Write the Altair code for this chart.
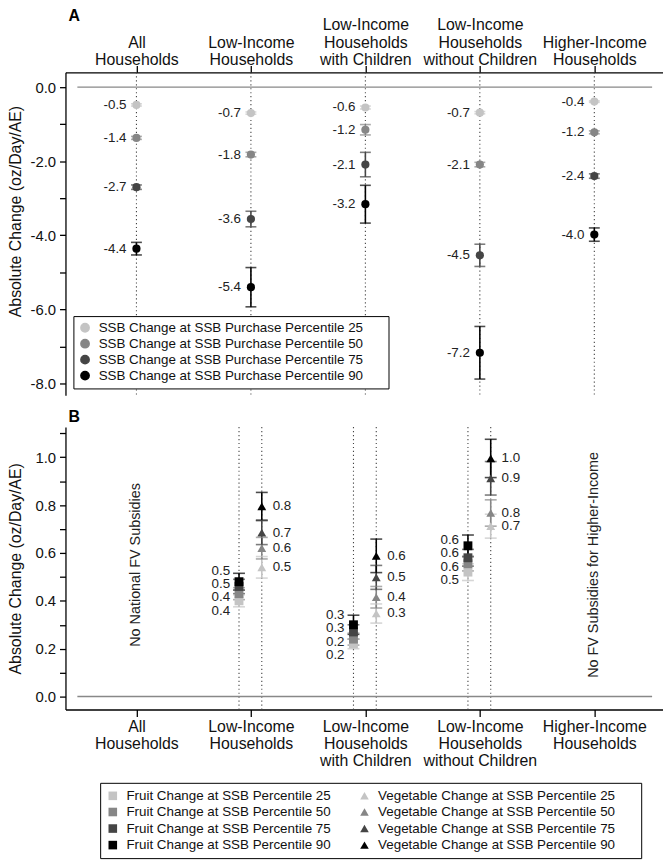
import json
import altair as alt
import pandas as pd

FONT = "Liberation Sans"

# ---------------- data ----------------
group_lines = [
    ["All", "Households"],
    ["Low-Income", "Households"],
    ["Low-Income", "Households", "with Children"],
    ["Low-Income", "Households", "without Children"],
    ["Higher-Income", "Households"],
]
percentiles = [25, 50, 75, 90]
gray_levels = ["#c4c4c4", "#868686", "#454545", "#000000"]
panel_letters = ["A", "B"]

# Panel A: SSB change (rows = groups, cols = percentile 25/50/75/90)
ssb_mean = [
    [-0.48, -1.37, -2.70, -4.36],
    [-0.70, -1.82, -3.56, -5.40],
    [-0.55, -1.15, -2.09, -3.16],
    [-0.69, -2.09, -4.54, -7.17],
    [-0.39, -1.22, -2.40, -3.98],
]
ssb_err = [
    [0.03, 0.04, 0.06, 0.17],
    [0.03, 0.06, 0.21, 0.53],
    [0.04, 0.14, 0.33, 0.51],
    [0.03, 0.06, 0.30, 0.71],
    [0.02, 0.04, 0.06, 0.18],
]
ssb_text = [
    ["-0.5", "-1.4", "-2.7", "-4.4"],
    ["-0.7", "-1.8", "-3.6", "-5.4"],
    ["-0.6", "-1.2", "-2.1", "-3.2"],
    ["-0.7", "-2.1", "-4.5", "-7.2"],
    ["-0.4", "-1.2", "-2.4", "-4.0"],
]

# Panel B: fruit / vegetable change for the low-income groups (index 1..3)
fv_groups = [1, 2, 3]
fruit_mean = [
    [0.40, 0.43, 0.46, 0.48],
    [0.22, 0.24, 0.27, 0.30],
    [0.52, 0.555, 0.58, 0.63],
]
fruit_err = [
    [0.025, 0.025, 0.03, 0.035],
    [0.02, 0.025, 0.03, 0.04],
    [0.035, 0.03, 0.035, 0.045],
]
fruit_text = [
    ["0.4", "0.4", "0.5", "0.5"],
    ["0.2", "0.2", "0.3", "0.3"],
    ["0.5", "0.6", "0.6", "0.6"],
]
veg_mean = [
    [0.54, 0.62, 0.685, 0.795],
    [0.347, 0.415, 0.498, 0.588],
    [0.712, 0.767, 0.912, 0.995],
]
veg_err = [
    [0.045, 0.045, 0.05, 0.058],
    [0.04, 0.045, 0.05, 0.07],
    [0.05, 0.055, 0.07, 0.08],
]
veg_text = [
    ["0.5", "0.6", "0.7", "0.8"],
    ["0.3", "0.4", "0.5", "0.6"],
    ["0.7", "0.8", "0.9", "1.0"],
]
notes = ["No National FV Subsidies", "No FV Subsidies for Higher-Income"]
note_groups = [0, 4]

# ---------------- layout / style constants ----------------
WA, HA = 603, 326
WB, HB = 603, 285
FRUIT_OFF, VEG_OFF = -0.104, 0.095
NOTE_Y = 0.55
BLANK_TAIL = "\u2800\u2800"


def dodge(vals, gap):
    order = sorted(range(len(vals)), key=lambda i: vals[i])
    clusters = [[i] for i in order]

    def pos(cl):
        c = sum(vals[i] for i in cl) / len(cl)
        n = len(cl)
        return [c + (k - (n - 1) / 2) * gap for k in range(n)]

    merged = True
    while merged:
        merged = False
        for j in range(len(clusters) - 1):
            a, b = pos(clusters[j]), pos(clusters[j + 1])
            if b[0] - a[-1] < gap - 1e-9:
                clusters[j] = clusters[j] + clusters[j + 1]
                del clusters[j + 1]
                merged = True
                break
    out = [0.0] * len(vals)
    for cl in clusters:
        for i, p in zip(cl, pos(cl)):
            out[i] = p
    return out


ssb_names = [f"SSB Change at SSB Purchase Percentile {p}" for p in percentiles]
fruit_names = [f"Fruit Change at SSB Percentile {p}" for p in percentiles]
veg_names = [f"Vegetable Change at SSB Percentile {p}" for p in percentiles]

rowsA = []
for g in range(5):
    ly = dodge(ssb_mean[g], 0.35)
    for k in range(4):
        m, e = ssb_mean[g][k], ssb_err[g][k]
        rowsA.append(dict(x=g, m=m, lo=m - e, hi=m + e, txt=ssb_text[g][k], ly=ly[k], series=ssb_names[k]))
dfA = pd.DataFrame(rowsA)

rowsF, rowsV = [], []
for j, g in enumerate(fv_groups):
    lyf = dodge(fruit_mean[j], 0.056)
    lyv = dodge(veg_mean[j], 0.054)
    for k in range(4):
        m, e = fruit_mean[j][k], fruit_err[j][k]
        rowsF.append(dict(x=g + FRUIT_OFF, m=m, lo=m - e, hi=m + e, txt=fruit_text[j][k], ly=lyf[k], series=fruit_names[k], k=k))
        m, e = veg_mean[j][k], veg_err[j][k]
        rowsV.append(dict(x=g + VEG_OFF, m=m, lo=m - e, hi=m + e, txt=veg_text[j][k], ly=lyv[k], series=veg_names[k], k=k))
dfF = pd.DataFrame(rowsF)
dfV = pd.DataFrame(rowsV)
dfB = pd.concat([dfF, dfV]).sort_values(["k", "x"]).reset_index(drop=True)

# ---------------- scales / axes ----------------
# top axis: pad every label to three lines so that the last lines line up
top_lines = [[""] * (3 - len(g)) + g for g in group_lines]
label_expr_top = f"{json.dumps(top_lines)}[round(datum.value)]"
label_expr_bot = f"{json.dumps(group_lines)}[round(datum.value)]"
xscale = alt.Scale(domain=[-0.62, 4.6], nice=False, zero=False)
common_x_axis = dict(values=[0, 1, 2, 3, 4], title=None, grid=False,
                     labelFontSize=16, labelLineHeight=17.5, labelFlush=False, labelOverlap=False,
                     labelAlign="center", tickSize=7, domainWidth=1.3, tickWidth=1.3,
                     labelColor="#111", domainColor="black", tickColor="black")
xaxisA = alt.Axis(orient="top", labelExpr=label_expr_top, labelBaseline="top", labelPadding=49, **common_x_axis)
xaxisB = alt.Axis(orient="bottom", labelExpr=label_expr_bot, labelPadding=2, **common_x_axis)

ytitle = "Absolute Change (oz/Day/AE)"
yscaleA = alt.Scale(domain=[-8.32, 0.40], nice=False, zero=False)
yaxisA = alt.Axis(values=list(range(-8, 1)),
                  labelExpr="datum.value % 2 == 0 ? (datum.value < 0 ? '-' : '') + format(abs(datum.value), '.1f') : ''",
                  title=ytitle, titleFontSize=16, titleFontWeight="normal", titleX=-50, titleY=140,
                  titleAngle=-90, titleAlign="center", titleBaseline="middle",
                  labelFontSize=15, tickSize=6, labelPadding=4, grid=False, domainWidth=1.3, tickWidth=1.3,
                  domainColor="black", tickColor="black", labelColor="#111", titleColor="#111")
yscaleB = alt.Scale(domain=[-0.054, 1.126], nice=False, zero=False)
yaxisB = alt.Axis(values=[round(0.1 * i, 1) for i in range(12)],
                  labelExpr="round(datum.value * 10) % 2 == 0 ? format(datum.value, '.1f') : ''",
                  title=ytitle, titleFontSize=16, titleFontWeight="normal", titleX=-50, titleY=HB / 2,
                  titleAngle=-90, titleAlign="center", titleBaseline="middle",
                  labelFontSize=15, tickSize=6, labelPadding=4, grid=False, domainWidth=1.3, tickWidth=1.3,
                  domainColor="black", tickColor="black", labelColor="#111", titleColor="#111")


def XA(f="x:Q"):
    return alt.X(f, scale=xscale, axis=xaxisA)


def XB(f="x:Q"):
    return alt.X(f, scale=xscale, axis=xaxisB)


def YA(f):
    return alt.Y(f, scale=yscaleA, axis=yaxisA)


def YB(f):
    return alt.Y(f, scale=yscaleB, axis=yaxisB)


legend_label_expr = f"datum.label + '{BLANK_TAIL}'"

colorA = alt.Scale(domain=ssb_names, range=gray_levels)
legendA = alt.Legend(title=None, orient="none", legendX=8, legendY=246, symbolType="circle",
                     symbolSize=70, symbolOpacity=1, labelFontSize=13.5, labelFont=FONT, labelColor="#111",
                     strokeColor="black", fillColor="white", padding=5, rowPadding=1.1,
                     labelOffset=7, labelLimit=0, labelExpr=legend_label_expr)

# column-major order: fruit column first, vegetable column second
namesB = fruit_names + veg_names
colorsB = gray_levels + gray_levels
shapesB = ["square"] * 4 + ["triangle-up"] * 4
colorB = alt.Scale(domain=namesB, range=colorsB)
shapeB = alt.Scale(domain=namesB, range=shapesB)
legendB = alt.Legend(title=None, orient="none", legendX=35, legendY=359, columns=2,
                     symbolSize=75, symbolOpacity=1, labelFontSize=13.5, labelFont=FONT, labelColor="#111",
                     strokeColor="black", fillColor="white", padding=6, rowPadding=1.7,
                     columnPadding=7, labelOffset=7, labelLimit=0, symbolStrokeWidth=0,
                     labelExpr=legend_label_expr)


def CA():
    return alt.Color("series:N", scale=colorA, legend=legendA)


def CB():
    return alt.Color("series:N", scale=colorB, legend=legendB)


# ---------------- panel A ----------------
dfGroups = pd.DataFrame({"x": list(range(5))})
dfZero = pd.DataFrame({"z": [0.0]})

dotsA = alt.Chart(dfGroups).mark_rule(strokeDash=[1.2, 2.8], color="#444", strokeWidth=1.1).encode(
    x=XA(), y=alt.value(0), y2=alt.value(HA))
zeroA = alt.Chart(dfZero).mark_rule(color="#888", strokeWidth=1.4).encode(
    y=YA("z:Q"), x=alt.value(12), x2=alt.value(592))
baseA = alt.Chart(dfA).encode(x=XA())
errA = baseA.mark_rule(strokeWidth=1.6).encode(y=YA("lo:Q"), y2="hi:Q", color=CA())
capLoA = baseA.mark_tick(orient="horizontal", size=11, thickness=1.6).encode(y=YA("lo:Q"), color=CA())
capHiA = baseA.mark_tick(orient="horizontal", size=11, thickness=1.6).encode(y=YA("hi:Q"), color=CA())
ptsA = baseA.mark_circle(size=68, opacity=1).encode(y=YA("m:Q"), color=CA())
txtA = baseA.mark_text(align="right", baseline="middle", dx=-10, fontSize=13.5, font=FONT, color="#222").encode(
    y=YA("ly:Q"), text="txt:N")
letterA = alt.Chart(pd.DataFrame({"t": [panel_letters[0]]})).mark_text(
    align="left", baseline="alphabetic", fontSize=16, fontWeight="bold", font=FONT, color="black").encode(
    text="t:N", x=alt.value(3), y=alt.value(-52))

panelA = alt.layer(dotsA, zeroA, errA, capLoA, capHiA, ptsA, txtA, letterA).properties(width=WA, height=HA)

# ---------------- panel B ----------------
dfDotB = pd.DataFrame({"x": [g + o for g in fv_groups for o in (FRUIT_OFF, VEG_OFF)]})
dfNotes = pd.DataFrame({"x": note_groups, "y": [NOTE_Y, NOTE_Y], "t": notes})

dotsB = alt.Chart(dfDotB).mark_rule(strokeDash=[1.2, 2.8], color="#444", strokeWidth=1.1).encode(
    x=XB(), y=alt.value(0), y2=alt.value(HB))
zeroB = alt.Chart(dfZero).mark_rule(color="#888", strokeWidth=1.4).encode(
    y=YB("z:Q"), x=alt.value(12), x2=alt.value(592))
baseB = alt.Chart(dfB).encode(x=XB())
errB = baseB.mark_rule(strokeWidth=1.6).encode(y=YB("lo:Q"), y2="hi:Q", color=CB())
capLoB = baseB.mark_tick(orient="horizontal", size=12, thickness=1.6).encode(y=YB("lo:Q"), color=CB())
capHiB = baseB.mark_tick(orient="horizontal", size=12, thickness=1.6).encode(y=YB("hi:Q"), color=CB())
ptsB = baseB.mark_point(filled=True, size=80, opacity=1, strokeWidth=0).encode(
    y=YB("m:Q"), color=CB(), shape=alt.Shape("series:N", scale=shapeB, legend=legendB))
txtF = alt.Chart(dfF).mark_text(align="right", baseline="middle", dx=-9, fontSize=13.5, font=FONT, color="#222").encode(
    x=XB(), y=YB("ly:Q"), text="txt:N")
txtV = alt.Chart(dfV).mark_text(align="left", baseline="middle", dx=11, fontSize=13.5, font=FONT, color="#222").encode(
    x=XB(), y=YB("ly:Q"), text="txt:N")
noteB = alt.Chart(dfNotes).mark_text(angle=270, align="center", baseline="middle", fontSize=14.5, font=FONT, color="#222").encode(
    x=XB(), y=YB("y:Q"), text="t:N")
letterB = alt.Chart(pd.DataFrame({"t": [panel_letters[1]]})).mark_text(
    align="left", baseline="middle", fontSize=16, fontWeight="bold", font=FONT, color="black").encode(
    text="t:N", x=alt.value(3), y=alt.value(-10))

panelB = alt.layer(dotsB, zeroB, errB, capLoB, capHiB, ptsB, txtF, txtV, noteB, letterB).properties(width=WB, height=HB)

chart = alt.vconcat(panelA, panelB, spacing=13).resolve_scale(
    color="independent", shape="independent", x="independent", y="independent"
).properties(padding={"left": 0, "top": -4, "right": 0, "bottom": 0}).configure_view(stroke=None)

chart.save("out.html", embed_options={"renderer": "svg", "actions": False})
